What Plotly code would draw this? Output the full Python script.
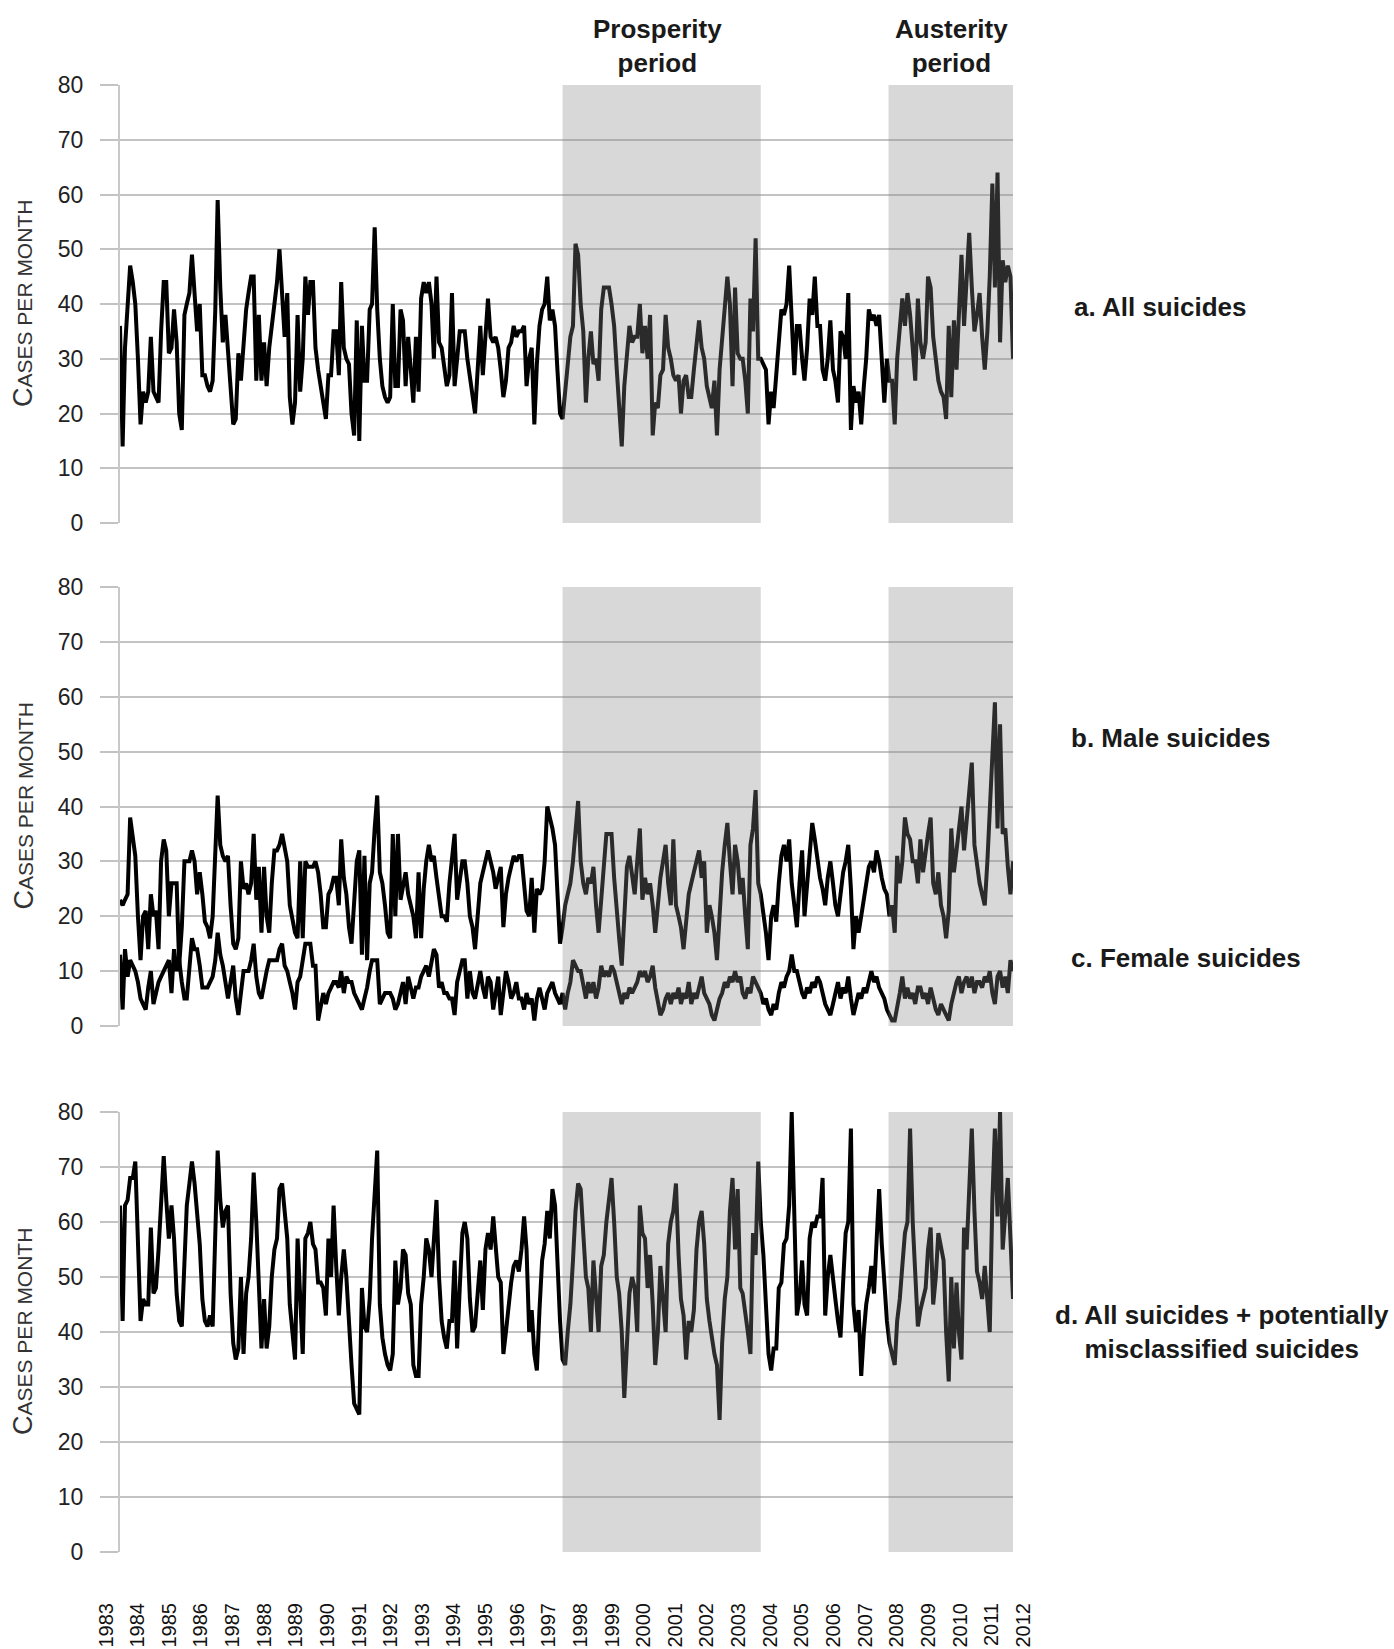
import pandas as pd
import plotly.graph_objects as go

# ---------------- data (monthly counts, Jan 1983 - Dec 2011) ----------------
start_month = "1983-01-01"

all_suicides = [
    36,14,32,40,47,44,40,30,18,24,22,24,
    34,24,23,22,35,44,44,31,32,39,33,20,
    17,38,40,42,49,41,35,40,27,27,25,24,
    26,39,59,43,33,38,32,25,18,19,31,26,
    34,39,42,45,45,26,38,26,33,25,32,36,
    41,44,50,42,34,42,23,18,22,38,24,30,
    45,38,44,44,32,28,25,22,19,27,27,35,
    35,27,44,32,30,29,20,16,37,15,36,26,
    26,39,40,54,39,30,25,23,22,23,40,25,
    25,39,37,25,34,28,22,34,24,41,44,42,
    44,40,30,45,33,32,28,25,27,42,25,30,
    35,35,35,30,27,24,20,28,36,27,33,41,
    34,33,34,32,28,23,26,32,33,36,34,35,
    35,36,25,30,32,18,29,36,39,40,45,37,
    39,36,28,20,19,24,28,34,36,51,49,40,
    35,22,30,35,29,30,26,39,43,43,43,40,
    36,28,22,14,25,31,36,33,34,34,40,31,
    36,30,38,16,22,21,27,28,38,32,30,27,
    26,27,20,26,27,23,23,28,32,37,32,30,
    25,23,21,26,16,28,34,38,45,40,25,43,
    31,30,30,26,20,41,35,52,30,30,29,28,
    18,24,21,27,32,39,38,40,47,38,27,36,
    36,30,26,32,41,38,45,36,36,28,26,30,
    37,28,26,22,35,34,30,42,17,25,22,24,
    18,25,30,39,37,38,36,38,30,22,30,26,
    26,18,30,35,41,36,42,38,32,26,41,33,
    30,33,45,43,34,30,26,24,23,19,36,23,
    37,28,40,49,36,45,53,43,35,38,42,34,
    28,35,45,62,43,64,33,48,44,47,45,30,
]

male_suicides = [
    23,22,23,24,38,34,31,20,12,20,21,14,
    24,20,21,14,30,34,32,20,26,26,26,11,
    18,30,30,30,32,30,24,28,24,19,18,16,
    20,30,42,33,31,30,31,22,15,14,16,30,
    25,26,24,26,35,23,29,17,29,20,17,26,
    32,32,33,35,32,30,22,19,17,16,30,16,
    30,29,29,29,30,28,24,18,18,24,25,27,
    27,22,34,27,24,18,15,22,30,32,13,31,
    12,26,28,36,42,28,26,22,17,16,35,20,
    35,23,26,28,24,22,20,16,28,16,25,30,
    33,30,31,27,24,20,20,19,26,31,35,23,
    26,30,30,26,20,18,14,20,26,28,30,32,
    30,28,25,27,29,18,24,27,29,31,30,31,
    31,26,21,20,27,17,25,24,25,30,40,38,
    36,33,25,15,18,22,24,26,30,35,41,30,
    26,24,27,26,29,22,17,23,30,35,35,35,
    27,20,16,11,20,29,31,27,24,30,36,23,
    27,24,26,22,17,22,27,30,33,26,22,34,
    22,20,18,14,20,24,26,28,30,32,27,30,
    17,22,20,17,12,22,28,33,37,30,24,33,
    30,24,27,20,14,33,36,43,26,24,21,17,
    12,20,22,19,26,31,33,30,34,26,22,18,
    26,32,20,26,30,37,34,30,27,25,22,27,
    30,26,22,20,24,28,30,33,25,14,20,17,
    20,23,26,29,30,28,32,30,27,25,24,20,
    22,17,31,26,30,38,35,34,30,30,26,34,
    28,32,35,38,26,24,28,22,20,16,21,36,
    28,32,36,40,32,38,42,48,33,29,26,24,
    22,30,40,52,59,36,55,35,36,29,24,30,
]

female_suicides = [
    13,3,14,9,12,11,10,8,5,4,3,7,
    10,4,6,8,9,10,11,12,6,14,10,12,
    8,5,5,10,16,14,14,11,7,7,7,8,
    9,12,17,13,11,8,5,8,11,5,2,6,
    10,10,10,12,15,9,6,5,8,10,12,12,
    12,12,14,15,11,10,8,6,3,8,9,12,
    15,15,15,11,11,1,4,6,4,6,7,8,
    8,7,10,6,9,8,8,6,5,4,3,5,
    7,10,12,12,12,4,5,6,6,6,5,3,
    4,6,8,4,9,7,5,7,7,9,10,11,
    9,12,14,13,7,8,6,6,5,5,2,8,
    10,12,12,5,10,6,5,8,10,7,5,9,
    8,3,6,9,2,7,10,8,5,6,8,5,
    5,3,6,4,5,1,5,7,5,3,6,7,
    8,6,5,4,6,3,6,8,12,11,10,10,
    7,5,8,6,8,5,7,11,9,10,9,11,
    10,8,6,4,6,5,7,6,7,8,10,9,
    10,8,9,11,7,4,2,3,5,6,4,6,
    5,7,4,6,5,8,4,6,5,7,9,6,
    5,4,2,1,3,5,6,8,7,9,8,10,
    8,9,6,5,7,6,9,8,7,6,4,5,
    3,2,4,3,6,8,7,9,10,13,10,10,
    8,6,5,7,6,8,7,9,8,6,4,3,
    2,4,6,8,5,7,6,9,5,2,4,6,
    5,7,6,8,10,8,9,7,6,5,3,2,
    1,1,4,6,9,5,7,5,6,4,7,7,
    5,6,4,7,5,3,2,4,3,2,1,4,
    6,8,9,6,8,9,7,9,6,8,8,7,
    9,8,10,6,4,9,10,7,9,6,12,10,
]

all_plus_misclassified = [
    63,42,63,64,68,68,71,56,42,46,45,45,
    59,47,48,55,62,72,64,57,63,57,47,42,
    41,55,63,67,71,67,61,56,46,42,41,43,
    41,60,73,64,59,62,63,47,38,35,37,50,
    36,47,50,57,69,60,47,37,46,37,41,50,
    55,57,66,67,62,57,45,40,35,57,46,36,
    57,58,60,56,55,49,49,48,43,57,50,63,
    52,43,50,55,50,40,34,27,26,25,48,41,
    40,46,57,65,73,45,39,36,34,33,36,53,
    45,48,55,54,47,45,34,32,32,45,50,57,
    55,50,56,64,50,42,39,37,42,42,53,37,
    48,58,60,57,46,40,41,47,53,44,55,58,
    55,61,55,50,49,36,40,45,49,52,53,51,
    55,61,55,40,44,36,33,44,53,56,62,57,
    66,63,52,42,35,34,40,45,53,62,67,66,
    58,50,48,40,53,47,40,52,54,60,64,68,
    60,50,47,40,28,38,47,50,48,40,63,58,
    57,48,54,45,34,40,52,46,40,56,60,62,
    67,54,46,43,35,42,40,44,55,60,62,56,
    46,42,39,36,34,24,38,46,50,62,68,55,
    66,48,47,44,40,36,58,54,71,60,54,45,
    36,33,37,37,48,49,56,57,63,80,60,43,
    46,53,45,43,57,60,59,61,61,68,43,50,
    54,49,46,42,39,49,58,60,77,45,40,44,
    32,40,45,48,52,47,55,66,56,48,42,38,
    36,34,42,46,52,58,60,77,60,50,41,44,
    46,48,55,59,45,50,58,55,53,40,31,50,
    37,49,40,35,59,55,65,77,62,51,49,46,
    52,45,40,64,77,61,80,55,62,68,57,46,
]

year_labels = list(range(1983, 2013))

prosperity_period = ("1997-05-01", "2003-10-01")
austerity_period = ("2007-11-20", "2011-12-01")

panel_labels = ["a. All suicides", "b. Male suicides", "c. Female suicides",
                "d. All suicides + potentially<br>misclassified suicides"]

# ---------------- figure ----------------
months = pd.date_range(start_month, periods=len(all_suicides), freq="MS")

W, H = 1394, 1649
def px_x(p): return p / W
def px_y(p): return 1 - p / H

x_dom = [px_x(120), px_x(1013)]
y_doms = [
    [px_y(523), px_y(85)],
    [px_y(1026), px_y(587)],
    [px_y(1552), px_y(1112)],
]

fig = go.Figure()
line_style = dict(color="#000000", width=4)

fig.add_trace(go.Scatter(x=months, y=all_suicides, mode="lines", line=line_style,
                         xaxis="x", yaxis="y", showlegend=False))
fig.add_trace(go.Scatter(x=months, y=male_suicides, mode="lines", line=line_style,
                         xaxis="x2", yaxis="y2", showlegend=False))
fig.add_trace(go.Scatter(x=months, y=female_suicides, mode="lines", line=line_style,
                         xaxis="x2", yaxis="y2", showlegend=False))
fig.add_trace(go.Scatter(x=months, y=all_plus_misclassified, mode="lines", line=line_style,
                         xaxis="x3", yaxis="y3", showlegend=False))
# carrier for the year label axis
fig.add_trace(go.Scatter(x=year_labels, y=[None] * len(year_labels), mode="markers",
                         xaxis="x4", yaxis="y4", showlegend=False, hoverinfo="skip"))

base_font = "Liberation Sans, Arial, sans-serif"
tick_font = dict(family=base_font, size=23, color="#222222")
grid_col = "#c3c3c3"

xrange = [months[0], months[-1]]
for i, (xa, ya) in enumerate([("xaxis", "yaxis"), ("xaxis2", "yaxis2"), ("xaxis3", "yaxis3")]):
    anchor_y = "y" if i == 0 else f"y{i+1}"
    anchor_x = "x" if i == 0 else f"x{i+1}"
    fig.update_layout(**{
        xa: dict(domain=x_dom, anchor=anchor_y, type="date", range=xrange,
                 showgrid=False, showticklabels=False, showline=False, zeroline=False,
                 ticks="", automargin=False),
        ya: dict(domain=y_doms[i], anchor=anchor_x, range=[0, 80], dtick=10,
                 showgrid=True, gridcolor=grid_col, gridwidth=2, zeroline=False,
                 showline=True, linecolor="#c8c8c8", linewidth=2,
                 ticks="outside", ticklen=18, tickwidth=2, tickcolor=grid_col,
                 ticklabelstandoff=12, tickfont=tick_font, automargin=False),
    })

lab_spacing = 31.63   # px per year of the label strip
lab_first = 106       # px position of the first label
fig.update_layout(
    xaxis4=dict(domain=[0, 1], anchor="free", position=px_y(1598),
                range=[1983 - lab_first / lab_spacing, 1983 + (W - lab_first) / lab_spacing],
                tickmode="array", tickvals=year_labels, ticktext=[str(y) for y in year_labels],
                tickangle=-90, ticks="", showgrid=False, showline=False, zeroline=False,
                automargin=False,
                tickfont=dict(family=base_font, size=20, color="#111111")),
    yaxis4=dict(domain=[0, 0.02], anchor="x4", visible=False, range=[0, 1], automargin=False),
)

# shaded periods (drawn above the lines, semi-transparent like the original)
shapes = []
for xref, yref in [("x", "y domain"), ("x2", "y2 domain"), ("x3", "y3 domain")]:
    for (a, b) in [prosperity_period, austerity_period]:
        shapes.append(dict(type="rect", xref=xref, yref=yref, x0=a, x1=b, y0=0, y1=1,
                           fillcolor="rgb(135,135,135)", opacity=0.32, layer="above",
                           line=dict(width=0)))
fig.update_layout(shapes=shapes)

label_font = dict(family=base_font, size=26, color="#1a1a1a")
annotations = []
# period headers
for txt, cx in [("<b>Prosperity<br>period</b>", 657), ("<b>Austerity<br>period</b>", 951)]:
    annotations.append(dict(text=txt, xref="paper", yref="paper", x=px_x(cx), y=px_y(46),
                            showarrow=False, font=label_font, align="center",
                            xanchor="center", yanchor="middle"))
# panel labels
for txt, (lx, ly, xa) in zip(panel_labels, [(1072, 307, "left"), (1069, 738, "left"),
                                             (1069, 958, "left"), (1222, 1332, "center")]):
    annotations.append(dict(text=f"<b>{txt}</b>", xref="paper", yref="paper", x=px_x(lx), y=px_y(ly),
                            showarrow=False, font=label_font, align="center",
                            xanchor=xa, yanchor="middle"))
# y-axis titles in small caps
ytitle = "C<span style='font-size:21px'>ASES PER MONTH</span>"
for dom in y_doms:
    annotations.append(dict(text=ytitle, xref="paper", yref="paper", x=px_x(23),
                            y=(dom[0] + dom[1]) / 2, textangle=-90, showarrow=False,
                            font=dict(family=base_font, size=27, color="#333333"),
                            xanchor="center", yanchor="middle"))
fig.update_layout(annotations=annotations)

fig.update_layout(width=W, height=H, margin=dict(l=0, r=0, t=0, b=0, pad=0),
                  paper_bgcolor="white", plot_bgcolor="white")

fig.write_html("out.html")
